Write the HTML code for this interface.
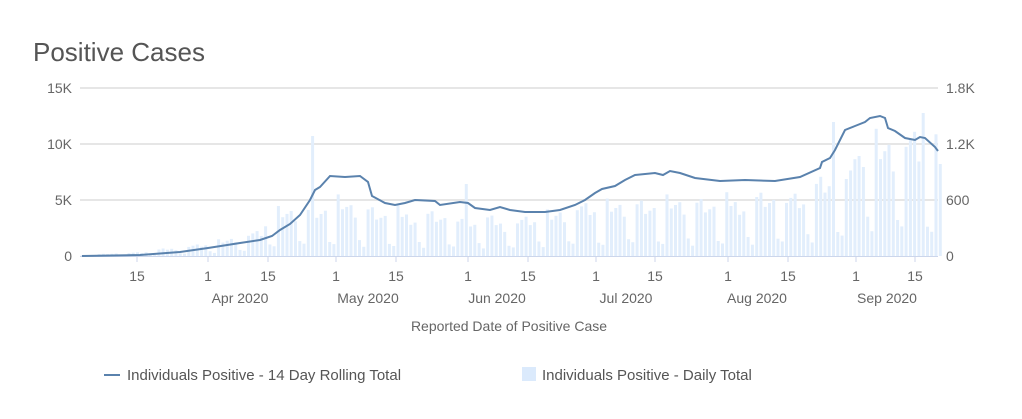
<!DOCTYPE html><html><head><style>body{margin:0;background:#fff;font-family:"Liberation Sans",sans-serif}</style></head><body>
<svg id="s" width="1022" height="414" xmlns="http://www.w3.org/2000/svg" font-family="Liberation Sans, sans-serif">
<text x="33" y="61" font-size="26" fill="#555">Positive Cases</text>
<g stroke="#e6e6e6" stroke-width="2"><line x1="80" x2="938" y1="88" y2="88"/><line x1="80" x2="938" y1="144" y2="144"/><line x1="80" x2="938" y1="200" y2="200"/></g>
<g font-size="14" fill="#666" text-anchor="end"><text x="72" y="93">15K</text><text x="72" y="149">10K</text><text x="72" y="205">5K</text><text x="72" y="261">0</text></g>
<g font-size="14" fill="#666"><text x="946" y="93">1.8K</text><text x="946" y="149">1.2K</text><text x="946" y="205">600</text><text x="946" y="261">0</text></g>
<g id="bars" fill="#e2eefc"></g>
<line x1="80" x2="938" y1="256.5" y2="256.5" stroke="#ccd6eb"/>
<g id="ticks" stroke="#ccd6eb"></g>
<g font-size="14" fill="#666" text-anchor="middle">
<text x="137" y="281">15</text><text x="208" y="281">1</text><text x="268" y="281">15</text><text x="336" y="281">1</text><text x="396" y="281">15</text><text x="468" y="281">1</text><text x="528" y="281">15</text><text x="596" y="281">1</text><text x="655" y="281">15</text><text x="728" y="281">1</text><text x="788" y="281">15</text><text x="856" y="281">1</text><text x="915" y="281">15</text>
<text x="240" y="303">Apr 2020</text><text x="368" y="303">May 2020</text><text x="497" y="303">Jun 2020</text><text x="626" y="303">Jul 2020</text><text x="757" y="303">Aug 2020</text><text x="887" y="303">Sep 2020</text>
<text x="509" y="331">Reported Date of Positive Case</text></g>
<polyline fill="none" stroke="#5a82ad" stroke-width="2" points="82,256 140,255 180,252 208,248 240,243 260,240 272,236 280,230 290,224 300,215 310,200 315,190 320,187 330,176 345,177 360,176 368,182 372,196 385,203 395,205 405,203 415,200 435,201 440,205 460,202 468,203 475,208 490,210 500,207 510,210 525,212 545,212 560,210 575,205 585,200 595,193 602,189 615,186 625,180 635,175 655,173 663,175 670,171 680,173 695,178 720,181 745,180 775,181 800,177 820,168 822,162 830,158 835,150 845,130 855,126 865,122 870,118 880,116 885,118 888,128 895,131 905,138 915,140 920,137 925,138 935,147 938,151"/>
<line x1="104" x2="120" y1="375" y2="375" stroke="#5a82ad" stroke-width="2"/>
<text x="127" y="380" font-size="15" fill="#555">Individuals Positive - 14 Day Rolling Total</text>
<rect x="522" y="367" width="14" height="14" fill="#dbeafc"/>
<text x="542" y="380" font-size="15" fill="#555">Individuals Positive - Daily Total</text>
</svg>
<script>
var env=[[0,1],[14,4],[28,12],[42,25],[44,45],[55,50],[60,55],[70,45],[90,40],[100,35],[115,50],[130,55],[150,55],[170,65],[180,90],[185,120],[195,120],[201,110]];
function E(d){for(var i=1;i<env.length;i++)if(d<=env[i][0]){var a=env[i-1],b=env[i];return a[1]+(b[1]-a[1])*(d-a[0])/(b[0]-a[0]);}return 100;}
var wk=[1,0.95,0.9,0.85,0.8,0.3,0.22],g=document.getElementById('bars'),h='';
var sp={54:120,176:134,197:143,90:72,182:100};
for(var d=0;d<=201;d++){var v=E(d)*wk[(d+3)%7]*(0.85+0.3*((d*37)%11)/10);if(sp[d])v=sp[d];var x=82+d*4.27;h+='<rect x="'+(x-1.5).toFixed(1)+'" y="'+(256-v).toFixed(1)+'" width="3" height="'+v.toFixed(1)+'"/>';}
g.innerHTML=h;
var t='';[137,208,268,336,396,468,528,596,655,728,788,856,915].forEach(function(x){t+='<line x1="'+x+'" x2="'+x+'" y1="256" y2="262"/>';});document.getElementById('ticks').innerHTML=t;
</script></body></html>
